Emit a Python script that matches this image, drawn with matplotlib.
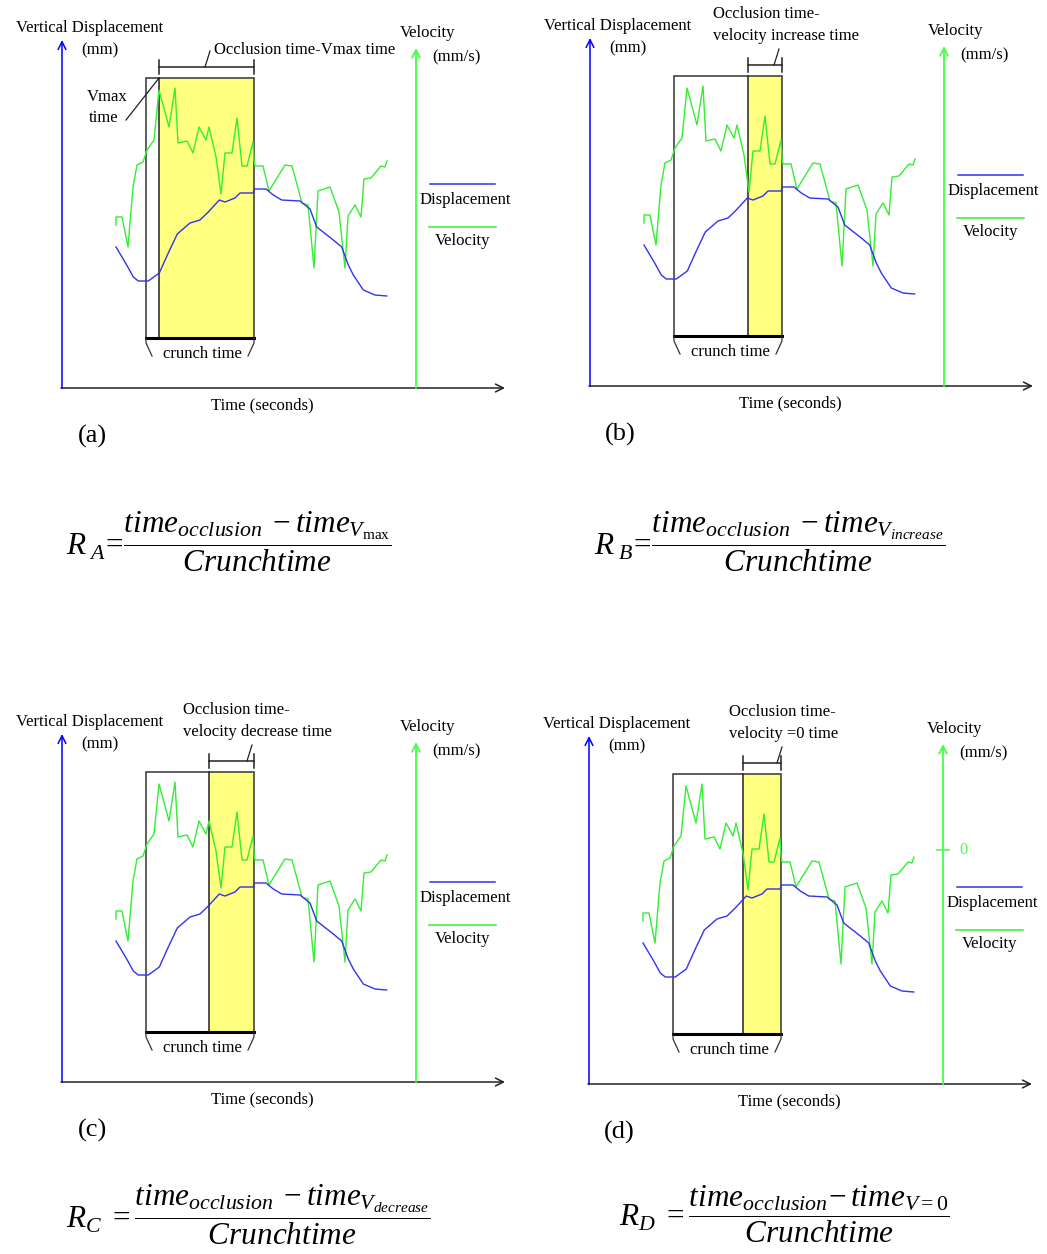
import numpy as np
import matplotlib
matplotlib.use('Agg')
import matplotlib.pyplot as plt
from matplotlib.patches import Rectangle

plt.rcParams['font.family'] = ['Liberation Serif', 'DejaVu Serif']
plt.rcParams['mathtext.fontset'] = 'custom'
plt.rcParams['mathtext.rm'] = 'Liberation Serif'
plt.rcParams['mathtext.it'] = 'Liberation Serif:italic'

# ── data (time in s, displacement in mm, velocity in mm/s) ─────────────
vel_t = [0.54, 0.54, 0.60, 0.66, 0.71, 0.75, 0.81, 0.85, 0.92, 0.97, 1.07,
         1.13, 1.16, 1.25, 1.31, 1.37, 1.44, 1.47, 1.54, 1.59, 1.63, 1.70,
         1.75, 1.80, 1.85, 1.91, 1.92, 1.93, 2.01, 2.07, 2.23, 2.30, 2.40,
         2.46, 2.52, 2.56, 2.68, 2.77, 2.83, 2.86, 2.93, 2.99, 3.02, 3.09,
         3.19, 3.23, 3.25]
vel_v = [16.3, 17.1, 17.1, 14.1, 20.1, 22.3, 22.6, 23.8, 24.8, 29.8, 26.1,
         30.0, 24.5, 24.7, 23.5, 26.1, 24.8, 26.1, 23.1, 19.4, 23.5, 23.5,
         27.0, 22.2, 22.2, 24.6, 22.8, 22.2, 22.2, 19.7, 22.3, 22.2, 18.5,
         18.3, 12.0, 19.7, 20.1, 17.6, 12.0, 17.2, 18.3, 17.1, 20.9, 21.0,
         22.2, 22.1, 22.7]
disp_t = [0.54, 0.647, 0.713, 0.763, 0.863, 0.973, 1.063, 1.153, 1.28, 1.38,
          1.463, 1.573, 1.63, 1.73, 1.78, 1.913, 1.92, 2.04, 2.113, 2.197,
          2.38, 2.48, 2.547, 2.713, 2.797, 2.863, 2.913, 3.013, 3.13, 3.247]
disp_v = [14.1, 12.3, 11.1, 10.7, 10.7, 11.5, 13.5, 15.4, 16.5, 16.8, 17.6,
          18.8, 18.6, 19.0, 19.5, 19.5, 19.9, 19.9, 19.3, 18.8, 18.7, 17.9,
          16.1, 14.8, 14.1, 12.3, 11.3, 9.8, 9.3, 9.2]

crunch_start = 0.84
occlusion = 1.92
box_low, box_high = 5.0, 31.0

panels = ['(a)', '(b)', '(c)', '(d)']
event_times = [0.97, 1.58, 1.47, 1.54]
occl_labels = [['Occlusion time-Vmax time'],
               ['Occlusion time-', 'velocity increase time'],
               ['Occlusion time-', 'velocity decrease time'],
               ['Occlusion time-', 'velocity =0 time']]
formulas = [r'$R_{\ A}\!=\!\dfrac{time_{occlusion}\;-time_{V_{\mathrm{max}}}}{Crunchtime}$',
            r'$R_{\ B}\!=\!\dfrac{time_{occlusion}\;-time_{V_{increase}}}{Crunchtime}$',
            r'$R_{C}\ =\dfrac{time_{occlusion}\;-time_{V_{decrease}}}{Crunchtime}$',
            r'$R_{D}\ =\dfrac{time_{occlusion}\!-time_{V=0}}{Crunchtime}$']

# layout (pixels of the 1047x1254 page)
W, H = 1047, 1254
origins = [(62, 388), (590, 386), (62, 1082), (589, 1084)]
legend_y = [20.4, 21.1, 20.0, 19.7]
label_x = [1.52, 1.23, 1.21, 1.40]
slash_x = [1.43, 1.84, 1.85, 1.88]
formula_pos = [(66, 542), (594, 542), (66, 1215), (619, 1214)]

BLUE = '#0000ff'
DBLUE = '#3333ee'
GREEN = '#33ee33'
AGREEN = '#44ff44'
FS = 12

fig = plt.figure(figsize=(W / 100, H / 100), dpi=100)
fig.patch.set_facecolor('white')

for k, (ox, oy) in enumerate(origins):
    ax = fig.add_axes([0, 0, 1, 1])
    ax.set_xlim(-ox / 100, (W - ox) / 100)
    ax.set_ylim((oy - H) / 10, oy / 10)
    ax.axis('off')
    ax.patch.set_alpha(0)

    # axes
    ax.annotate('', xy=(0, 34.8), xytext=(0, -0.05),
                arrowprops=dict(arrowstyle='->', color=BLUE, lw=1.1,
                                mutation_scale=14, shrinkA=0, shrinkB=0))
    ax.annotate('', xy=(4.43, 0), xytext=(-0.01, 0),
                arrowprops=dict(arrowstyle='->', color='#222222', lw=1.1,
                                mutation_scale=14, shrinkA=0, shrinkB=0))
    ax.annotate('', xy=(3.54, 34.0), xytext=(3.54, 0),
                arrowprops=dict(arrowstyle='->', color=AGREEN, lw=1.3,
                                mutation_scale=14, shrinkA=0, shrinkB=0))

    ax.text(0.28, 36.0, 'Vertical Displacement', ha='center', va='center', fontsize=FS)
    ax.text(0.38, 33.8, '(mm)', ha='center', va='center', fontsize=FS)
    ax.text(3.66, 35.5, 'Velocity', ha='center', va='center', fontsize=FS)
    ax.text(3.94, 33.1, '(mm/s)', ha='center', va='center', fontsize=FS)
    ax.text(2.0, -1.7, 'Time (seconds)', ha='center', va='center', fontsize=FS)
    ax.text(0.30, -4.8, panels[k], ha='center', va='center', fontsize=19)

    # crunch box and highlighted interval
    ev = event_times[k]
    ax.add_patch(Rectangle((ev, box_low), occlusion - ev, box_high - box_low,
                           facecolor='#ffff80', edgecolor='none', zorder=1))
    ax.add_patch(Rectangle((crunch_start, box_low), occlusion - crunch_start,
                           box_high - box_low, facecolor='none',
                           edgecolor='#333333', lw=1.1, zorder=2))
    ax.plot([ev, ev], [box_low, box_high], color='#222222', lw=1.1, zorder=2)
    ax.plot([crunch_start, occlusion], [box_low, box_low], color='black', lw=2.2, zorder=2)

    # crunch time bracket
    ax.plot([crunch_start, crunch_start, crunch_start + 0.06], [box_low, 4.5, 3.2],
            color='#333333', lw=0.9)
    ax.plot([occlusion, occlusion, occlusion - 0.06], [box_low, 4.5, 3.2],
            color='#333333', lw=0.9)
    ax.text((crunch_start + occlusion) / 2 + 0.02, 3.4, 'crunch time',
            ha='center', va='center', fontsize=FS)

    # occlusion bracket
    ax.plot([ev, occlusion], [32.1, 32.1], color='#222222', lw=1.1)
    for xx in (ev, occlusion):
        ax.plot([xx, xx], [31.4, 32.8], color='#222222', lw=1.1)
    sx = slash_x[k]
    ax.plot([sx, sx + 0.05], [32.1, 33.7], color='#222222', lw=0.9)
    lines = occl_labels[k]
    if len(lines) == 1:
        ax.text(label_x[k], 33.8, lines[0], ha='left', va='center', fontsize=FS)
    else:
        ax.text(label_x[k], 37.2, lines[0], ha='left', va='center', fontsize=FS)
        ax.text(label_x[k], 35.0, lines[1], ha='left', va='center', fontsize=FS)

    if k == 0:
        ax.text(0.45, 29.1, 'Vmax', ha='center', va='center', fontsize=FS)
        ax.text(0.42, 27.0, 'time', ha='center', va='center', fontsize=FS)
        ax.plot([0.64, 0.97], [26.8, 31.0], color='#222222', lw=0.9)
    if k == 3:
        ax.plot([3.48, 3.60], [23.4, 23.4], color=AGREEN, lw=1.2)
        ax.text(3.70, 23.4, '0', ha='left', va='center', fontsize=FS, color=AGREEN)

    # curves
    ax.plot(vel_t, vel_v, color=GREEN, lw=1.0, zorder=3)
    ax.plot(disp_t, disp_v, color=DBLUE, lw=1.0, zorder=3)

    # legend
    ly = legend_y[k]
    ax.plot([3.68, 4.33], [ly, ly], color=DBLUE, lw=1.1)
    ax.text(4.03, ly - 1.6, 'Displacement', ha='center', va='center', fontsize=FS)
    ax.plot([3.67, 4.34], [ly - 4.3, ly - 4.3], color=GREEN, lw=1.1)
    ax.text(4.01, ly - 5.7, 'Velocity', ha='center', va='center', fontsize=FS)

for (fx, fy), f in zip(formula_pos, formulas):
    fig.text(fx / W, 1 - fy / H, f, ha='left', va='center', fontsize=22.5)

fig.savefig('out.png', dpi=100, facecolor='white')
